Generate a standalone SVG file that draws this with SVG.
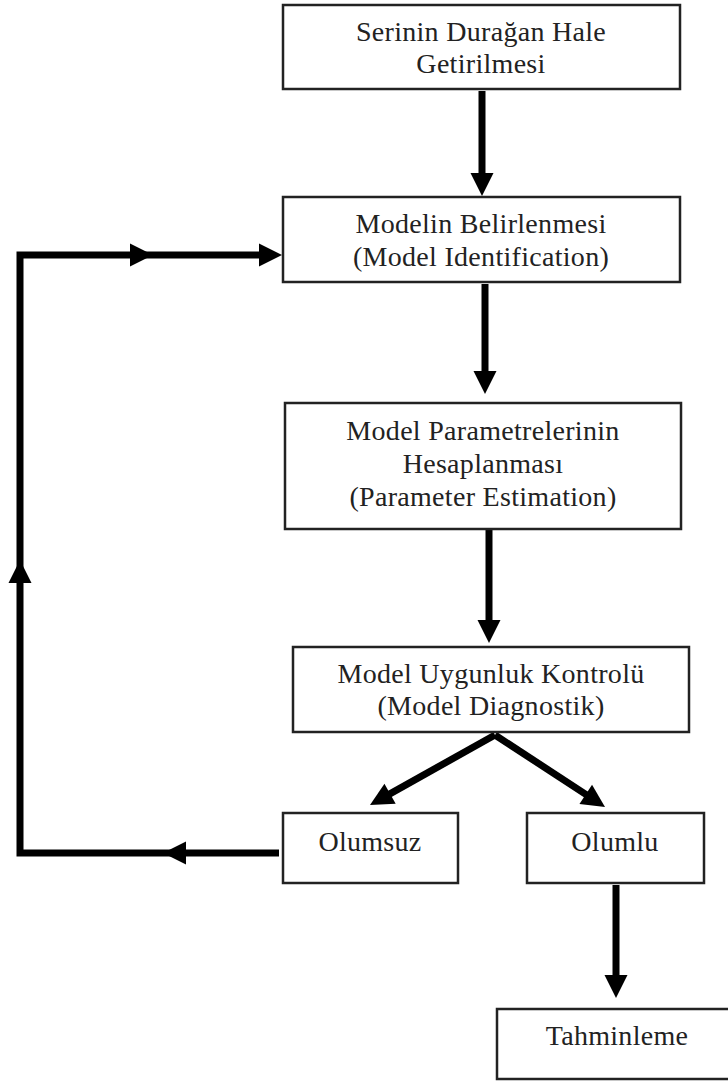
<svg xmlns="http://www.w3.org/2000/svg" width="728" height="1082" viewBox="0 0 728 1082">
<style>
.box{fill:#fff;stroke:#222;stroke-width:2.5}
.t{font-family:'Liberation Serif','DejaVu Serif',serif;font-size:28px;fill:#222;text-anchor:middle;letter-spacing:0.3px}
.ln{fill:none;stroke:#000;stroke-width:7;stroke-linejoin:miter}
.hd{fill:#000}
</style>
<defs>
<path id="head" d="M0,0 L-23,-11.5 L-23,11.5 z"/>
</defs>
<rect width="728" height="1082" fill="#fff"/>
<g id="connectors">
<line class="ln" x1="482" y1="91" x2="482" y2="183"/>
<use class="hd" href="#head" transform="translate(482,196) rotate(90)"/>
<line class="ln" x1="485" y1="284" x2="485" y2="381"/>
<use class="hd" href="#head" transform="translate(485,394) rotate(90)"/>
<line class="ln" x1="489" y1="530" x2="489" y2="630"/>
<use class="hd" href="#head" transform="translate(489,643) rotate(90)"/>
<line class="ln" x1="495" y1="735" x2="380.5" y2="799.1"/>
<use class="hd" href="#head" transform="translate(370,805) rotate(150.75)"/>
<line class="ln" x1="495" y1="735" x2="595" y2="800.4"/>
<use class="hd" href="#head" transform="translate(605,807) rotate(33.2)"/>
<line class="ln" x1="616" y1="885" x2="616" y2="985"/>
<use class="hd" href="#head" transform="translate(616,998) rotate(90)"/>
<polyline class="ln" points="279,853 20,853 20,255 268,255"/>
<use class="hd" href="#head" transform="translate(163,853) rotate(180)"/>
<use class="hd" href="#head" transform="translate(20,560) rotate(-90)"/>
<use class="hd" href="#head" transform="translate(153,255)"/>
<use class="hd" href="#head" transform="translate(282,255)"/>
</g>
<g id="n1">
<rect class="box" x="283" y="5" width="397" height="84"/>
<text class="t" x="481" y="41" font-family="Liberation Serif">Serinin Durağan Hale</text>
<text class="t" x="481" y="73" font-family="Liberation Serif">Getirilmesi</text>
</g>
<g id="n2">
<rect class="box" x="283" y="197" width="397" height="85"/>
<text class="t" x="481" y="233">Modelin Belirlenmesi</text>
<text class="t" x="481" y="266">(Model Identification)</text>
</g>
<g id="n3">
<rect class="box" x="285" y="403" width="396" height="126"/>
<text class="t" x="483" y="440">Model Parametrelerinin</text>
<text class="t" x="483" y="473">Hesaplanması</text>
<text class="t" x="483" y="506">(Parameter Estimation)</text>
</g>
<g id="n4">
<rect class="box" x="293" y="647" width="396" height="85"/>
<text class="t" x="491" y="683">Model Uygunluk Kontrolü</text>
<text class="t" x="491" y="715">(Model Diagnostik)</text>
</g>
<g id="n5">
<rect class="box" x="283" y="813" width="175" height="70"/>
<text class="t" x="370" y="851">Olumsuz</text>
</g>
<g id="n6">
<rect class="box" x="527" y="813" width="177" height="70"/>
<text class="t" x="615" y="851">Olumlu</text>
</g>
<g id="n7">
<rect class="box" x="497" y="1009" width="245" height="70"/>
<text class="t" x="617" y="1045">Tahminleme</text>
</g>
</svg>
